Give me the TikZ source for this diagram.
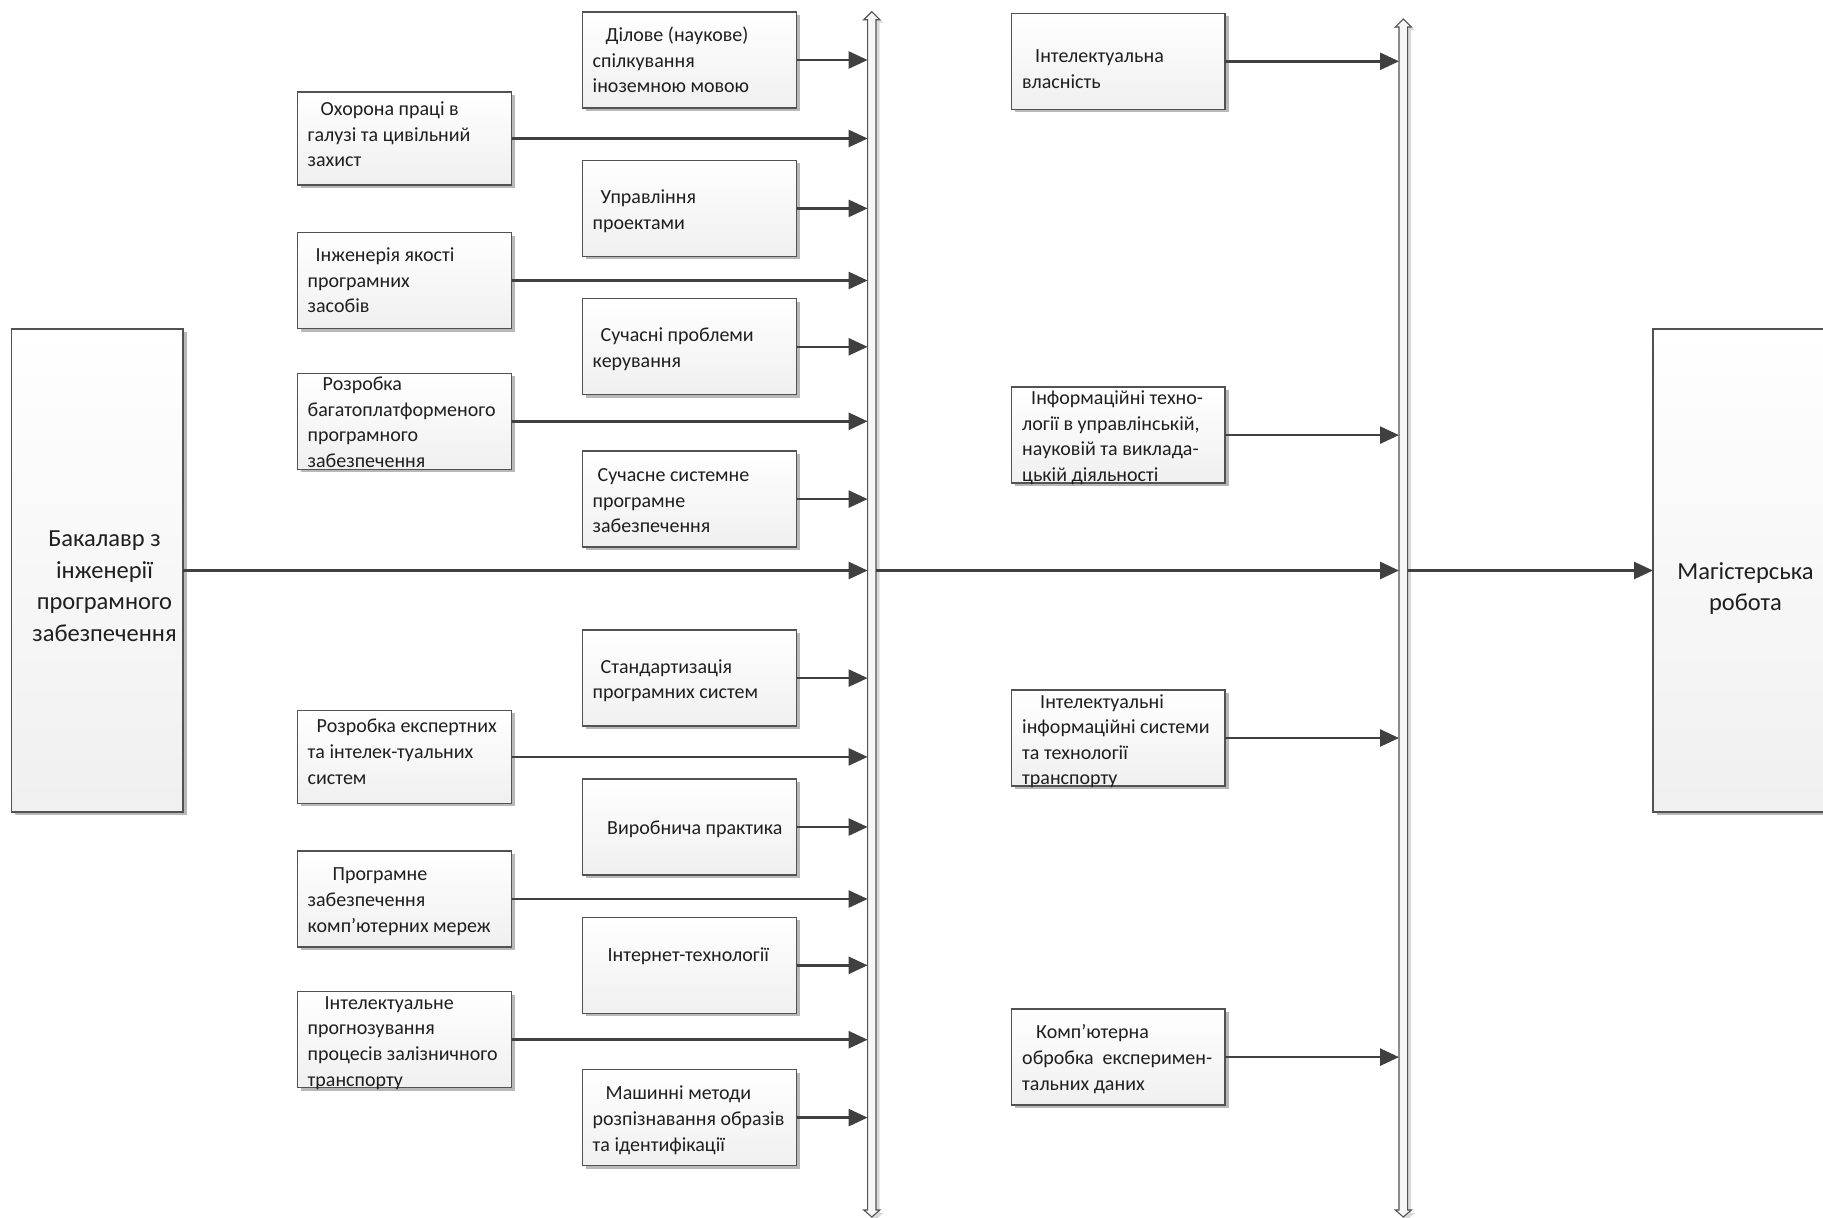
\documentclass[tikz,border=0pt]{standalone}
\usepackage{fontspec}
\setmainfont{Carlito}
\usetikzlibrary{arrows.meta,shadows}
\begin{document}
\begin{tikzpicture}[x=1pt,y=-1pt,
  box/.style={draw=black!68, line width=1.3pt, top color=white, bottom color=black!6,
    drop shadow={shadow xshift=3.5pt, shadow yshift=-3pt, fill=black!28, opacity=1},
    inner sep=0pt, outer sep=0pt, anchor=north west},
  smallbox/.style={box, minimum width=214pt, minimum height=96pt},
  bigbox/.style={box, minimum width=171.5pt, minimum height=483pt},
  txt/.style={anchor=north west, inner sep=0pt, align=left, text=black!88, yshift=-2.5pt,
    font=\fontsize{20}{25.6}\selectfont},
  bigtxt/.style={anchor=north, inner sep=0pt, align=center, text=black!88, yshift=-2.5pt,
    font=\fontsize{24.5}{31.6}\selectfont},
  conn/.style={draw=black!75, line width=2.6pt, -{Triangle[length=19pt,width=17pt]}},
  bar/.style={draw=black!68, line width=1.1pt, fill=black!3,
    drop shadow={shadow xshift=3.5pt, shadow yshift=-3pt, fill=black!15, opacity=1}}
]
\newcommand\fl{\rule{0pt}{16pt}}
\useasboundingbox (0,0) rectangle (1823,1218);
\clip (0,0) rectangle (1823,1218);
\fill[white] (0,0) rectangle (1823,1218);

% vertical bars
\path[bar] (871.8,11.7) -- (879.8,19.7) -- (876,19.7) -- (876,1210) -- (879.8,1210) -- (871.8,1217)
  -- (863.8,1210) -- (867.6,1210) -- (867.6,19.7) -- (863.8,19.7) -- cycle;
\path[bar] (1403.3,19) -- (1411.3,27) -- (1407.6,27) -- (1407.6,1210) -- (1411.3,1210) -- (1403.3,1217)
  -- (1395.3,1210) -- (1399,1210) -- (1399,27) -- (1395.3,27) -- cycle;
\coordinate (b1l) at (867.6,0);
\coordinate (b1r) at (876,0);
\coordinate (b2l) at (1399,0);
\coordinate (b2r) at (1407.6,0);

% big boxes
\node[bigbox] (L) at (11.5,329) {};
\node[bigbox] (R) at (1653,329) {};
\node[bigtxt] (Lt) at (104.5,524) {\rule{0pt}{20pt}Бакалавр з\\інженерії\\програмного\\забезпечення};
\node[bigtxt] (Rt) at (1745.5,556.5) {\rule{0pt}{20pt}Магістерська\\робота};

% column A
\node[smallbox, minimum height=93pt] (a1) at (297.5,92) {};
\node[smallbox] (a2) at (297.5,232.5) {};
\node[smallbox] (a3) at (297.5,373.3) {};
\node[smallbox, minimum height=93pt] (a4) at (297.5,710.4) {};
\node[smallbox] (a5) at (297.5,851) {};
\node[smallbox] (a6) at (297.5,991.7) {};
\node[txt] (a1t) at (307.5,96.7) {\fl\hspace*{13pt}Охорона праці в\\галузі та цивільний\\захист};
\node[txt] (a2t) at (307.5,242.7) {\fl\hspace*{8pt}Інженерія якості\\програмних\\засобів};
\node[txt] (a3t) at (307.5,372) {\fl\hspace*{15pt}Розробка\\багатоплатформеного\\програмного\\забезпечення};
\node[txt] (a4t) at (307.5,714.1) {\fl\hspace*{9pt}Розробка експертних\\та інтелек-туальних\\систем};
\node[txt] (a5t) at (307.5,862.2) {\fl\hspace*{25pt}Програмне\\забезпечення\\комп’ютерних мереж};
\node[txt] (a6t) at (307.5,990.5) {\fl\hspace*{17pt}Інтелектуальне\\прогнозування\\процесів залізничного\\транспорту};

% column B
\node[smallbox] (b1) at (582.5,12) {};
\node[smallbox] (b2) at (582.5,160.4) {};
\node[smallbox] (b3) at (582.5,298.8) {};
\node[smallbox] (b4) at (582.5,451.1) {};
\node[smallbox] (b5) at (582.5,630.1) {};
\node[smallbox] (b6) at (582.5,779) {};
\node[smallbox] (b7) at (582.5,917.3) {};
\node[smallbox] (b8) at (582.5,1069.6) {};
\node[txt] (b1t) at (592.5,22.7) {\fl\hspace*{13pt}Ділове (наукове)\\спілкування\\іноземною мовою};
\node[txt] (b2t) at (592.5,184.7) {\fl\hspace*{8pt}Управління\\проектами};
\node[txt] (b3t) at (592.5,323.2) {\fl\hspace*{8pt}Сучасні проблеми\\керування};
\node[txt] (b4t) at (592.5,462.7) {\fl\hspace*{5pt}Сучасне системне\\програмне\\забезпечення};
\node[txt] (b5t) at (592.5,654.5) {\fl\hspace*{8pt}Стандартизація\\програмних систем};
\node[txt] (b6t) at (592.5,816.2) {\fl\hspace*{14.5pt}Виробнича практика};
\node[txt] (b7t) at (592.5,943) {\fl\hspace*{15pt}Інтернет-технології};
\node[txt] (b8t) at (592.5,1081.2) {\fl\hspace*{13pt}Машинні методи\\розпізнавання образів\\та ідентифікації};

% column C
\node[smallbox, minimum width=213.3pt] (c1) at (1011.7,13.3) {};
\node[smallbox, minimum width=213.3pt] (c2) at (1011.7,387.1) {};
\node[smallbox, minimum width=213.3pt] (c3) at (1011.7,690) {};
\node[smallbox, minimum width=213.3pt] (c4) at (1011.7,1009.1) {};
\node[txt] (c1t) at (1022,44) {\fl\hspace*{13pt}Інтелектуальна\\власність};
\node[txt] (c2t) at (1022,386) {\fl\hspace*{9pt}Інформаційні техно-\\логії в управлінській,\\науковій та виклада-\\цькій діяльності};
\node[txt] (c3t) at (1022,689.3) {\fl\hspace*{18pt}Інтелектуальні\\інформаційні системи\\та технології\\транспорту};
\node[txt] (c4t) at (1022,1020.2) {\fl\hspace*{14pt}Комп’ютерна\\обробка\ \ експеримен-\\тальних даних};

% connectors
\foreach \n in {a1,a2,a3,a4,a5,a6,b1,b2,b3,b4,b5,b6,b7,b8}
  \draw[conn] (\n.east) -- (\n.east -| b1l);
\foreach \n in {c1,c2,c3,c4}
  \draw[conn] (\n.east) -- (\n.east -| b2l);
\draw[conn] (L.east) -- (L.east -| b1l);
\draw[conn] (b1r |- L.east) -- (b2l |- L.east);
\draw[conn] (b2r |- R.west) -- (R.west);
\end{tikzpicture}
\end{document}
